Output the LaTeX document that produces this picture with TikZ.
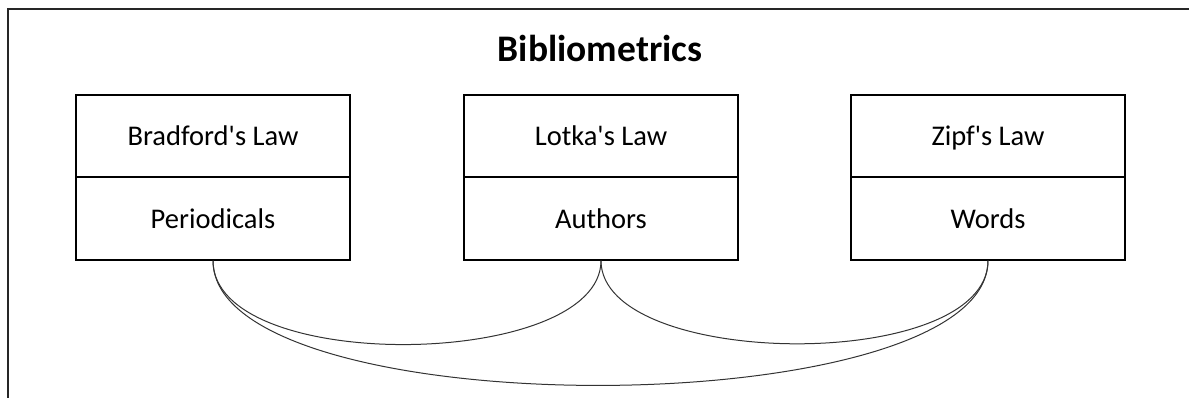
\documentclass[tikz,border=0pt]{standalone}
\usepackage{fontspec}
\setmainfont{Carlito}[Ligatures=TeXOff]
\begin{document}
\begin{tikzpicture}[x=1pt,y=-1pt,
  cell/.style={draw=black,line width=1.6pt,minimum width=274pt,minimum height=82.5pt,inner sep=0pt,text height=20pt,text depth=0pt,font=\fontsize{28.5}{30}\selectfont},
  frame/.style={draw=black!85,line width=2pt},
  link/.style={draw=black!80,line width=1pt}]
\useasboundingbox (0,0) rectangle (1189,398);
\draw[frame] (8,398) -- (8,9) -- (1189,9);
\node[font=\fontsize{37.5}{40}\selectfont\bfseries,text height=26pt,text depth=0pt] (title) at (600,49) {Bibliometrics};
% Bradford
\node[cell] (b1) at (213,136) {Bradford's Law};
\node[cell] (b2) at (213,218.5) {Periodicals};
% Lotka
\node[cell] (l1) at (601,136) {Lotka's Law};
\node[cell] (l2) at (601,218.5) {Authors};
% Zipf
\node[cell] (z1) at (988,136) {Zipf's Law};
\node[cell] (z2) at (988,218.5) {Words};
% curves
\draw[link] (b2.south) .. controls +(0,115) and +(0,109) .. (l2.south);
\draw[link] (l2.south) .. controls +(0,109) and +(0,113) .. (z2.south);
\draw[link] (b2.south) .. controls +(0,168) and +(0,165) .. (z2.south);
\end{tikzpicture}
\end{document}
